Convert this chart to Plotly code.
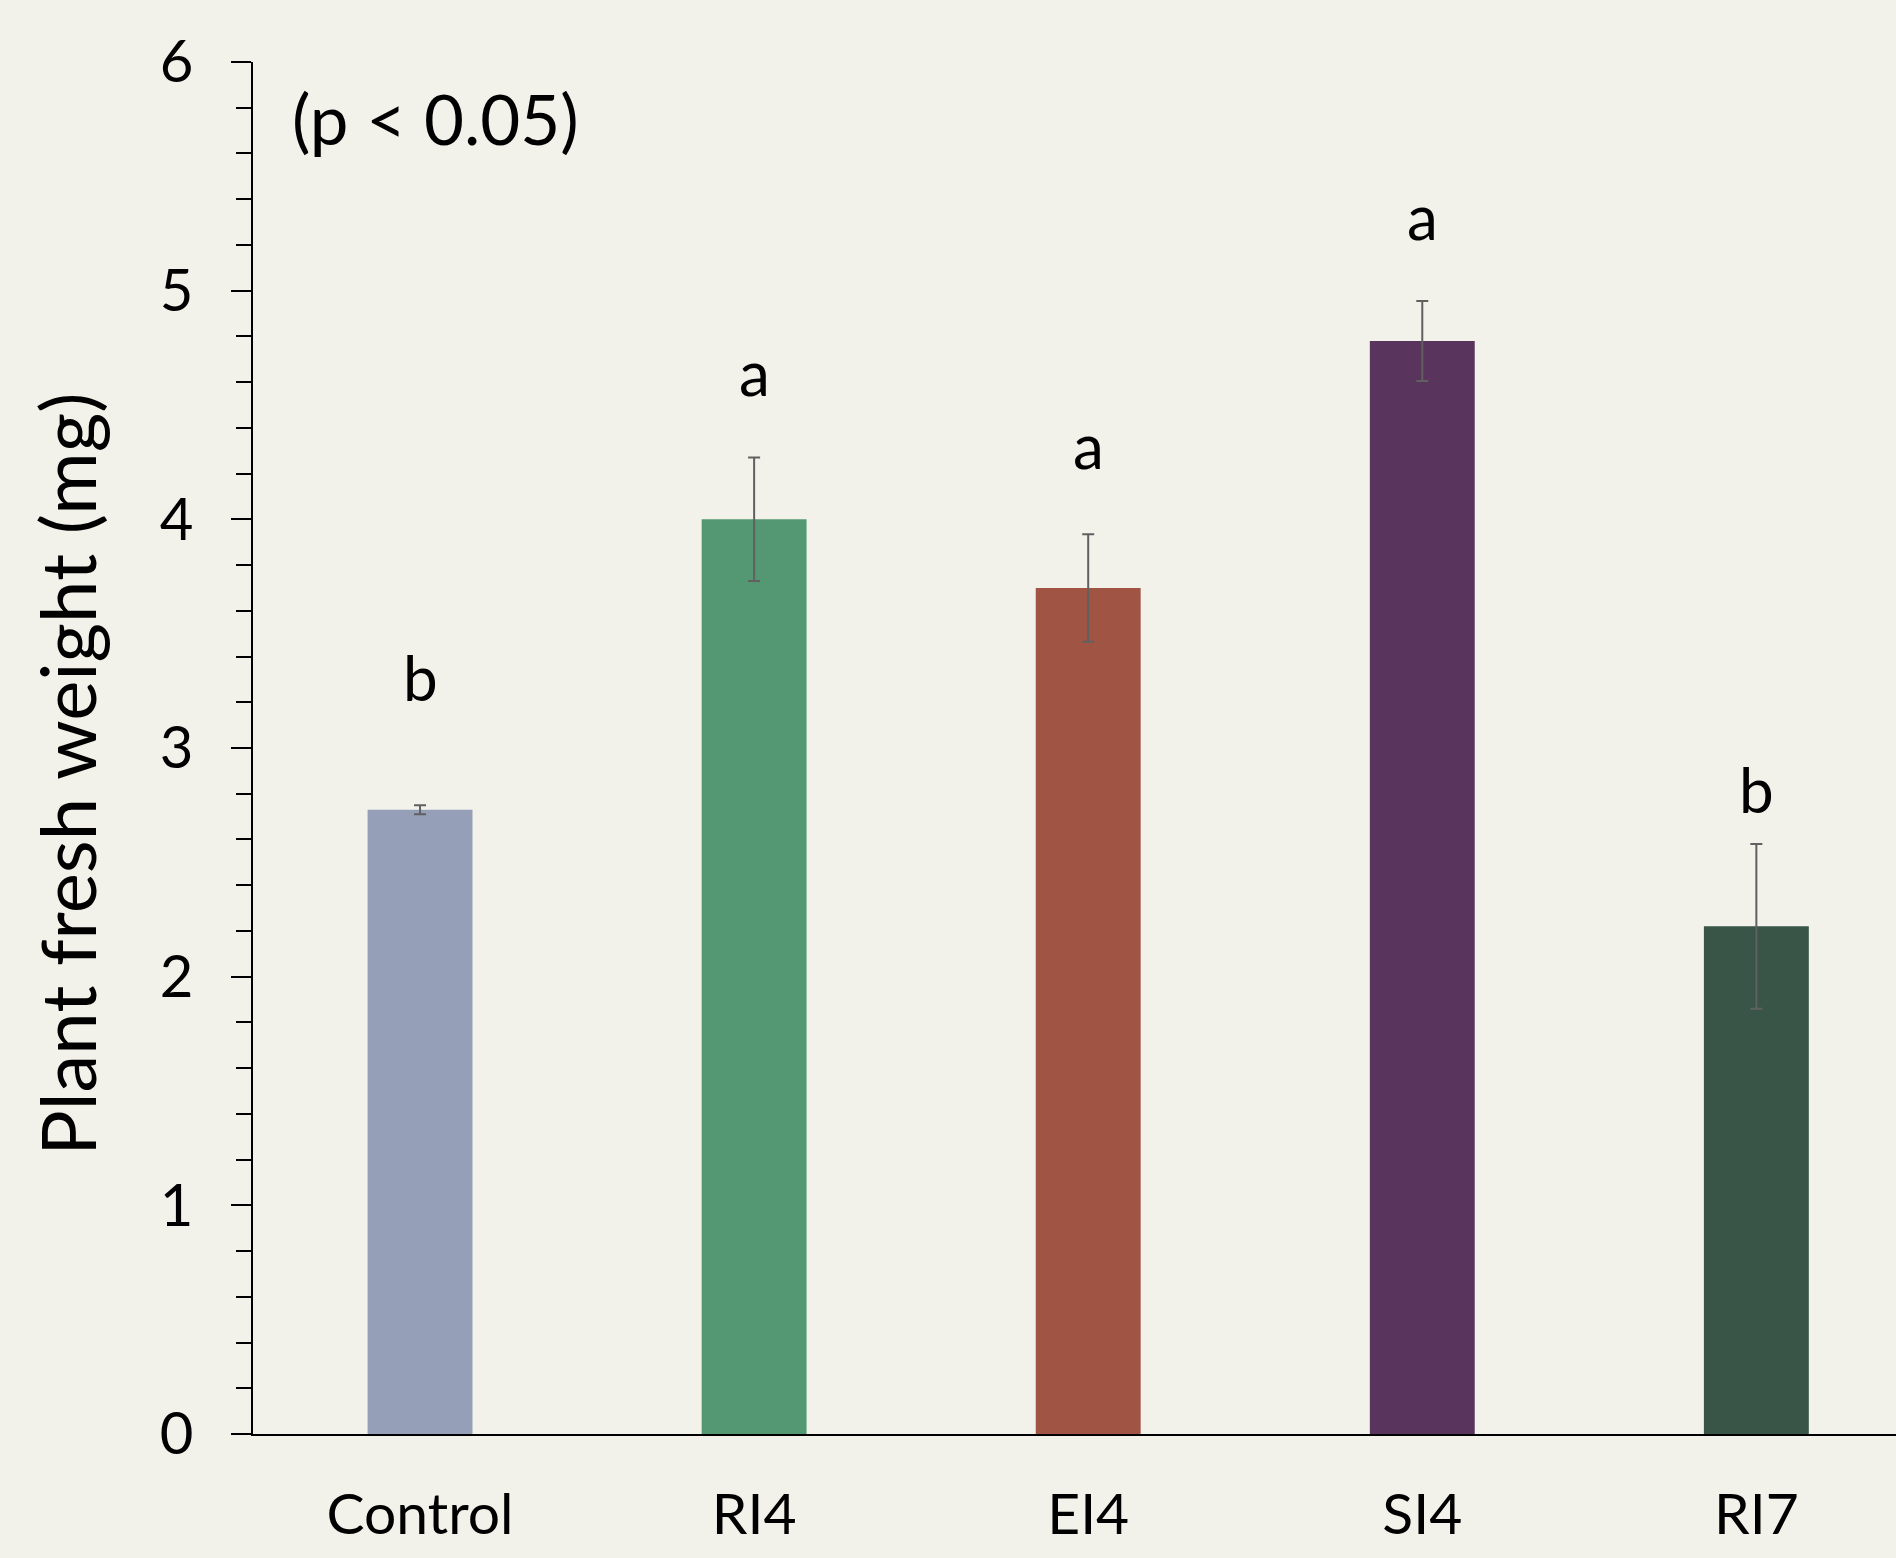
import plotly.graph_objects as go

# Treatments and measured plant fresh weight (mean ± error)
treatments = ["Control", "RI4", "EI4", "SI4", "RI7"]
fresh_weight = [2.73, 4.00, 3.70, 4.78, 2.22]
weight_err = [0.02, 0.27, 0.235, 0.175, 0.36]
sig_letters = ["b", "a", "a", "a", "b"]

bar_colors = ["#95A0B8", "#539872", "#A05444", "#59345D", "#385548"]
# vertical placement of the significance letters (axis units)
letter_heights = [3.31, 4.645, 4.325, 5.325, 2.82]

FONT = "Lato"
BG = "#F2F2EA"

fig = go.Figure()
fig.add_trace(go.Bar(
    x=treatments,
    y=fresh_weight,
    width=0.314,
    marker=dict(color=bar_colors, line=dict(width=0)),
    error_y=dict(type="data", array=weight_err, visible=True,
                 color="#606060", thickness=2, width=6),
    hoverinfo="x+y",
))

annotations = []
for t, lbl, h in zip(treatments, sig_letters, letter_heights):
    annotations.append(dict(
        x=t, y=h, xref="x", yref="y", text=lbl, showarrow=False,
        xanchor="center", yanchor="middle",
        font=dict(family=FONT, size=62, color="#000000"),
    ))

annotations.append(dict(
    x=0.0225, y=0.9585, xref="paper", yref="paper", text="(p < 0.05)",
    showarrow=False, xanchor="left", yanchor="middle",
    font=dict(family=FONT, size=69, color="#000000"),
))

annotations.append(dict(
    x=-0.114, y=0.481, xref="paper", yref="paper",
    text="Plant fresh weight (mg)", textangle=-90, showarrow=False,
    xanchor="center", yanchor="middle",
    font=dict(family=FONT, size=76, color="#000000"),
))

fig.update_layout(
    width=1896, height=1558,
    margin=dict(l=253, r=0, t=62, b=124, pad=0),
    paper_bgcolor=BG, plot_bgcolor=BG,
    showlegend=False,
    annotations=annotations,
    font=dict(family=FONT, color="#000000"),
    xaxis=dict(
        type="category",
        range=[-0.5, 4.418],
        showline=True, linecolor="#000000", linewidth=2,
        ticks="", showgrid=False, zeroline=False,
        tickfont=dict(family=FONT, size=57, color="#000000"),
        ticklabelstandoff=30,
    ),
    yaxis=dict(
        range=[0, 6],
        tickvals=[0, 1, 2, 3, 4, 5, 6],
        showline=True, linecolor="#000000", linewidth=2,
        ticks="outside", ticklen=20, tickwidth=2, tickcolor="#000000",
        minor=dict(dtick=0.2, ticks="outside", ticklen=15, tickwidth=2,
                   tickcolor="#000000", showgrid=False),
        showgrid=False, zeroline=False,
        tickfont=dict(family=FONT, size=58, color="#000000"),
        ticklabelstandoff=26,
    ),
)

fig.write_html("out.html")
